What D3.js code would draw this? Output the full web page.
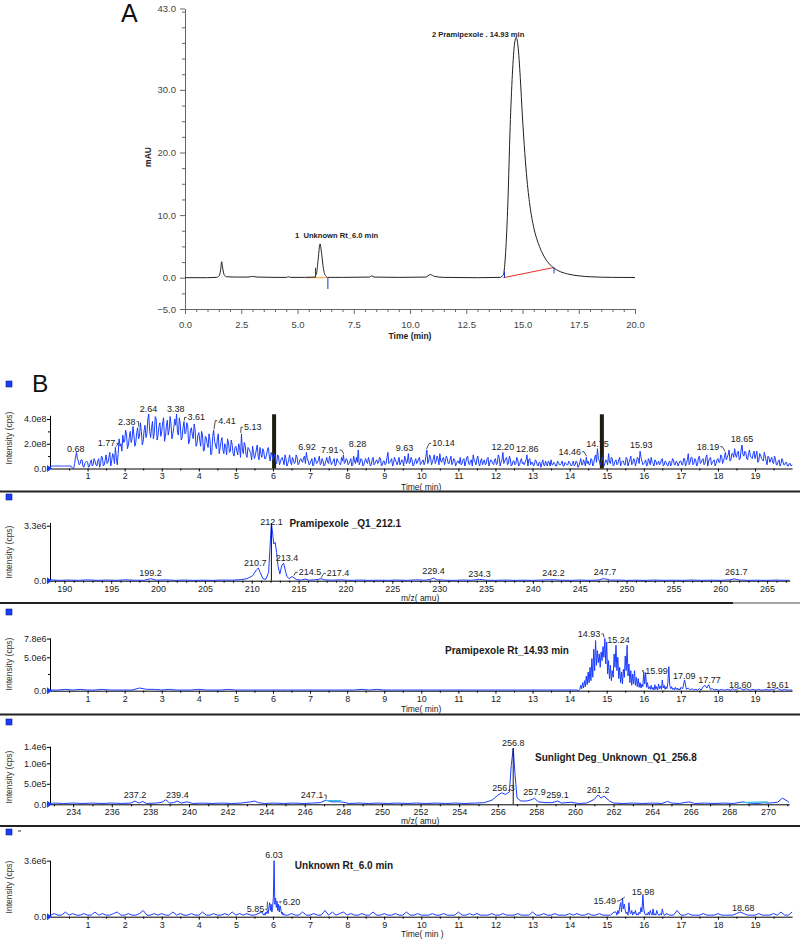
<!DOCTYPE html>
<html><head><meta charset="utf-8">
<script src="https://cdn.jsdelivr.net/npm/d3@7"></script>
<style>body{margin:0;background:#fff} svg{display:block}</style>
</head><body>
<svg id="c" width="800" height="941"></svg>
<script>
// ---------------- DATA ----------------
// Panel A: UV chromatogram [time (min), mAU]
const uvTrace = [[0,0],[1.0,0],[1.4,0.05],[1.52,0.3],[1.58,1.2],[1.63,2.55],[1.68,1.4],[1.75,0.4],[1.85,0.15],[2.2,0.1],[2.8,0.1],[3.0,0.2],[3.2,0.1],[4.0,0.05],[4.5,0.05],[4.6,0.15],[4.7,0.05],[5.3,0.05],[5.75,0.1],[5.85,0.8],[5.92,3.0],[6.0,5.4],[6.08,3.6],[6.15,1.5],[6.25,0.3],[6.35,0.05],[7.0,0.05],[8.2,0.1],[8.3,0.3],[8.4,0.1],[9.5,0.05],[10.7,0.1],[10.9,0.5],[11.1,0.2],[11.5,0.05],[13.0,0.0],[14.0,0.05],[14.15,0.5],[14.25,4],[14.35,12],[14.45,24],[14.55,32.5],[14.65,37.5],[14.72,38.4],[14.8,37],[14.9,32],[15.0,25.5],[15.1,20],[15.2,15.6],[15.35,11],[15.5,8],[15.7,5.5],[15.9,3.8],[16.1,2.6],[16.3,1.8],[16.6,1.1],[17.0,0.6],[17.5,0.3],[18.0,0.15],[19.0,0.05],[20.0,0.03]];
const uvYTicks = [-5,0,10,20,30,43];
const uvXTicks = [0,2.5,5,7.5,10,12.5,15,17.5,20];
const uvPeakLabels = [["1  Unknown Rt_6.0 min",6.0,6.3],["2 Pramipexole . 14.93 min",14.93,38.4]];
const uvBaseline1 = [[5.4,0],[6.3,0]];
const uvBaseline2 = [[14.15,0],[16.35,1.6]];
const uvMarks = [[5.8,1.6,0],[6.35,0,-1.8],[14.2,1,0],[16.4,1.7,0.7]];

// Panel B1: TIC, intensity in 1e7 cps, sampled every 0.05 min from 0 ...
const TIC_START = 0, TIC_STEP = 0.05;
const ticValues = [
1,2,2,2,2,2,2,2,2,2,2,2,0,4,13,6,4,7,1,5,
5,2,7,3,6,2,8,4,9,3,11,5,13,6,10,17,3,24,20,27,
22,28,19,30,24,27,21,33,26,30,22,35,28,44,25,38,29,40,27,37,
30,41,26,39,31,36,28,40,44,27,36,25,38,29,35,22,33,24,31,20,
29,18,27,15,25,17,23,13,31,19,24,12,22,15,20,11,21,14,19,10,
18,11,17,28,12,19,9,16,12,18,8,15,10,17,9,14,8,15,10,13,
7,12,4,10,5,9,3,8,4,11,3,7,5,9,4,8,5,10,13,6,
4,8,3,7,5,10,4,6,3,9,4,7,5,8,3,6,4,9,11,5,
7,4,8,3,6,9,15,5,7,3,8,4,6,3,9,4,7,5,8,3,
6,4,13,5,8,4,7,3,9,5,6,10,4,12,5,7,3,8,5,9,
4,7,5,15,6,9,5,11,6,8,12,5,9,6,8,4,10,5,7,4,
6,9,4,8,5,10,3,7,11,5,8,4,6,3,7,4,9,5,6,3,
8,4,9,5,13,6,9,4,8,3,6,4,7,3,8,5,5,11,7,3,
5,3,6,2,5,4,3,6,2,5,7,3,4,2,5,3,6,2,4,3,
5,2,6,3,5,2,8,3,5,9,6,3,7,4,11,16,6,5,9,4,
6,12,4,8,3,7,4,9,5,6,3,8,5,10,4,7,5,8,14,6,
4,7,3,6,9,4,7,3,6,4,8,3,5,2,6,4,7,3,5,4,
6,3,8,4,12,5,9,4,7,3,10,5,8,4,11,6,9,5,7,4,
8,5,10,6,13,9,15,7,12,16,9,14,8,19,10,13,7,15,9,12,
8,14,6,11,7,13,6,10,5,9,4,8,3,7,4,6,3,5,2,4,
3];
// ... plus the in-between scans, every 0.05 min from 0.025
const TIC_MID_START = 0.025;
const ticMidValues = [
2,2,2,2,2,2,2,2,2,2,2,1,0,9,8,3,7,2,4,6,
1,5,2,8,3,6,1,10,2,7,4,9,2,12,4,9,12,18,14,21,
31,16,25,21,34,18,29,24,37,19,31,25,40,30,33,24,42,23,34,26,
37,22,34,27,42,24,33,35,29,41,23,33,28,37,20,31,27,36,18,27,
23,30,14,26,20,28,11,26,22,16,28,17,25,12,18,24,13,23,12,17,
14,20,9,15,21,11,17,14,7,13,11,19,7,12,16,8,11,17,6,11,
10,5,11,3,8,6,11,2,7,5,9,4,11,3,7,6,9,4,8,3,
6,2,9,4,7,3,8,2,6,5,10,3,6,2,8,5,3,6,4,8,
3,6,2,10,4,5,3,8,2,6,5,9,2,7,3,6,4,9,2,6,
3,9,4,6,2,9,5,6,3,7,2,8,6,4,9,2,6,4,8,3,
6,3,10,4,11,3,8,4,10,3,6,8,3,10,4,7,3,8,2,6,
4,3,7,2,9,4,6,2,7,3,10,2,8,5,3,8,2,7,4,7,
3,11,2,7,4,8,3,10,2,6,3,9,2,6,4,3,7,2,8,5,
2,7,3,5,1,7,2,4,6,2,3,5,2,6,3,4,2,5,3,6,
3,4,2,6,1,5,3,7,2,4,3,8,2,9,5,8,3,9,2,7,
3,5,9,2,6,3,7,2,6,3,9,2,7,3,8,2,9,4,9,3,
5,2,8,3,5,2,6,4,3,7,2,6,3,5,2,8,3,6,2,6,
3,8,2,7,3,9,3,8,2,9,4,7,3,9,2,8,3,6,2,7,
5,11,4,9,7,11,6,12,9,11,13,7,15,11,14,8,12,10,8,14,
11,5,12,8,6,10,3,9,7,5,10,3,6,2,8,3,5,2,4,2];
const ticMarkers = [6.03, 14.87];
const ticLabels = [["0.68",0.68,13.1],["1.77",1.77,17.9],["2.38",2.38,35.4],["2.64",2.64,45.4],["3.38",3.38,45.4],["3.61",3.61,38.9],["4.41",4.41,36.2],["5.13",5.13,30.9],["6.92",6.92,14.7],["7.91",7.91,12.5],["8.28",8.28,17.4],["9.63",9.63,13.9],["10.14",10.14,17.9],["12.20",12.20,14.7],["12.86",12.86,13.1],["14.46",14.46,11.2],["14.75",14.75,17.4],["15.93",15.93,16.6],["18.19",18.19,15.2],["18.65",18.65,21.2]];

// Panel B2: Q1 spectrum 212.1, [m/z, intensity in 1e5 cps]
const q1Spectrum = [[188.5,0.5],[189.5,0.2],[190.5,0.4],[191.5,0.2],[192.5,0.5],[193.5,0.2],[194.5,0.4],[195.5,0.2],[196.5,0.5],[197.5,0.3],[198.5,0.2],[199.2,1.2],[199.8,0.3],[200.8,0.5],[201.8,0.2],[202.8,0.4],[203.8,0.2],[204.8,0.3],[205.8,0.2],[206.8,0.4],[207.8,0.3],[208.8,0.6],[209.5,1.2],[210.1,3],[210.5,6.5],[210.7,7.6],[210.9,5],[211.2,1.2],[211.5,0.8],[211.8,5],[212.0,25],[212.1,34.5],[212.2,30],[212.35,22],[212.5,23],[212.65,17],[212.8,9],[213.0,4],[213.2,9],[213.4,10.5],[213.55,7],[213.75,2.5],[214.0,1.2],[214.3,2.5],[214.5,1.8],[214.8,0.6],[215.3,0.4],[215.7,1.0],[216.1,0.3],[216.8,0.6],[217.1,0.8],[217.4,1.2],[217.8,0.5],[218.5,0.3],[219.5,0.5],[220.5,0.2],[221.5,0.4],[222.5,0.2],[223.5,0.3],[224.5,0.2],[225.5,0.4],[226.5,0.2],[227.5,0.5],[228.5,0.3],[229.1,0.8],[229.4,1.6],[229.7,0.6],[230.5,0.3],[231.5,0.2],[232.5,0.4],[233.5,0.3],[234.3,0.8],[235,0.3],[236,0.2],[237,0.4],[238,0.2],[239,0.3],[240,0.2],[241,0.4],[242.2,0.6],[243,0.3],[244,0.2],[245,0.4],[246,0.2],[247,0.4],[247.5,1.2],[247.9,0.9],[248.3,0.3],[249,0.4],[250,0.2],[251,0.3],[252,0.2],[253,0.4],[254,0.2],[255,0.3],[256,0.2],[257,0.4],[258,0.2],[259,0.3],[260,0.2],[261,0.5],[261.5,1.1],[262,0.4],[263,0.2],[264,0.3],[265,0.2],[266,0.4],[267,0.2],[267.4,0.3]];
const q1Marker = 212.1;
const q1Labels = [["199.2",199.2,2.6],["210.7",210.7,8.6],["212.1",212.1,33.6],["213.4",213.4,11.6],["214.5",214.5,3.2],["217.4",217.4,2.6],["229.4",229.4,4.0],["234.3",234.3,2.0],["242.2",242.2,2.6],["247.7",247.7,3.6],["261.7",261.7,3.2]];

// Panel B3: XIC Rt 14.93, intensity in 1e5 cps (three sampled segments)
const XIC14_BASE_START = 0, XIC14_BASE_STEP = 0.2;
const xic14Base = [1,1,2,1,2,1,1,2,1,1,1,1,4,2,2,1,2,1,1,1,2,1,1,1,2,1,1,1,1,1,1,1,1,1,1,1,1,1,1,1,1,1,2,1,2,1,1,1,1,1,1,1,1,1,1,1,1,1,1,1,1,1,1,1,1,1,1,1,1,1,1,1];
const XIC14_PEAK_START = 14.25, XIC14_PEAK_STEP = 0.025;
const xic14Peak = [
0,2,8,3,12,4,15,6,22,9,
28,12,35,15,48,20,62,30,75,38,
60,42,55,35,58,45,66,50,78,40,
73,25,45,18,38,15,30,20,55,35,
68,30,50,18,35,12,28,10,32,20,
52,30,68,22,40,12,30,8,25,10,
30,8,20,6,18,5,12,4,10,6,
28,10,27,5,12,3,6,2,8,2,
5,1,9,2,6,1,10,3,7,2,
16,4,8,2,6,3,12,36,8,3,
6,2,4,1,5,2,4,1,3,1,
5];
const XIC14_TAIL_START = 17.05, XIC14_TAIL_STEP = 0.05;
const xic14Tail = [3,16,2,4,1,3,1,2,1,3, 1,6,8,4,9,2,3,1,2,1, 1,2,1,1,2,1,1,3,1,2, 3,4,2,1,3,2,1,1,2,1, 1,2,1,1,1,2,1,1,2,1, 3,4,2,1,1,2,1,1,1,1];
const xic14Labels = [["14.93",14.93,80.4],["15.24",15.24,71.4],["15.99",15.99,25],["17.09",17.09,17.5],["17.77",17.77,11.5],["18.60",18.60,4],["19.61",19.61,4]];

// Panel B4: Q1 spectrum 256.8, [m/z, intensity in 1e4 cps]
const q4Spectrum = [[232.8,2],[233.0,3],[233.5,2],[234,3],[234.5,2],[235,3],[235.5,2],[236,3],[236.5,2],[237.0,3],[237.2,8],[237.4,3],[237.6,7],[237.8,2],[238.3,3],[238.6,5],[238.8,11],[239.0,3],[239.2,4],[239.4,8],[239.6,3],[239.9,6],[240.2,2],[240.7,3],[241.2,2],[241.7,3],[242.2,2],[242.7,3],[243.2,6],[243.4,8],[243.6,4],[243.9,2],[244.4,3],[244.9,2],[245.4,3],[245.9,2],[246.4,3],[246.8,4],[247.1,10],[247.4,6],[247.8,6],[248.0,5],[248.3,2],[248.8,3],[249.3,2],[249.8,3],[250.3,2],[250.8,3],[251.3,2],[251.8,3],[252.3,2],[252.8,3],[253.3,2],[253.8,3],[254.3,2],[254.8,3],[255.3,4],[255.7,10],[256.0,22],[256.2,28],[256.4,24],[256.6,30],[256.7,95],[256.8,137],[256.9,70],[257.0,15],[257.2,8],[257.5,8],[257.8,12],[257.9,15],[258.1,6],[258.5,4],[258.8,4],[259.1,8],[259.3,3],[259.8,5],[260.2,2],[260.6,3],[261.0,12],[261.2,23],[261.35,15],[261.5,20],[261.8,8],[262.0,3],[262.5,2],[263,3],[263.5,2],[264,3],[264.5,2],[264.8,7],[265.0,3],[265.4,2],[265.9,6],[266.2,2],[266.7,3],[267.2,2],[267.7,3],[268.2,2],[268.7,6],[269.0,3],[269.5,2],[269.8,4],[270.0,3],[270.3,4],[270.5,5],[270.75,15],[271.0,8],[271.1,4]];
const q4Cyan = [[[247.1,9],[247.9,9]],[[268.7,4],[270.0,6]]];
const q4Marker = 256.8;
const q4Labels = [["237.2",237.2,15.4],["239.4",239.4,15.4],["247.1",247.1,15.4],["256.8",256.8,141.5],["256.3",256.3,31.7],["257.9",257.9,23.4],["259.1",259.1,15.4],["261.2",261.2,27.6]];

// Panel B5: XIC Rt 6.0, intensity in 1e5 cps (sampled segments)
const XIC6_A_START = 0, XIC6_A_STEP = 0.1;
const xic6A = [1,2,1,1,3,1,2,1,1,2, 1,1,3,1,2,1,1,2,3,1, 1,2,1,1,2,4,1,1,2,1, 2,1,1,3,1,2,1,1,2,1, 1,3,1,1,2,1,1,2,1,3, 1,2,1,2,1,1,2,3];
const XIC6_B_START = 5.75, XIC6_B_STEP = 0.02;
const xic6B = [1,2,1,3,2,4,2,6,9,4,8,3,6,12,36,8,12,6,10,4,8,3,7,5,2,3,1,2,1,1,1];
const XIC6_C_START = 6.4, XIC6_C_STEP = 0.1;
const xic6C = [1,2,1,1,3,1,1,2,1,1, 4,1,3,1,2,3,1,2,1,1, 2,1,1,3,1,1,2,1,1,2, 1,1,3,1,1,2,1,1,1,2, 1,1,2,1,1,1,3,1,1,2, 1,2,1,1,1,2,1,1,2,1, 1,1,2,1,1,1,3,1,1,2, 1,1,2,1,1,1,2,1,2,1, 1,2,1,1,2,1,1,1,3];
const XIC6_D_START = 15.25, XIC6_D_STEP = 0.025;
const xic6D = [3,1,4,2,6,9,3,12,5,8, 4,2,3,1,9,3,2,4,1,3, 2,4,1,2,1,3,2,6,3,14, 5,2,1,2,1,3,1,4,2,1, 5,1,2,1,4,2,1,1,2,1, 5,2,1,1,2];
const XIC6_E_START = 16.7, XIC6_E_STEP = 0.1;
const xic6E = [1,1,4,1,1,2,1,1,1,2, 1,1,1,2,1,1,1,1,2,3, 2,1,1,1,2,1,1,1,2,1, 3,1,1,3];
const xic6Labels = [["6.03",6.03,37.7],["5.85",5.85,2.8],["6.20",6.20,7.7],["15.49",15.49,8.2],["15.98",15.98,14.1],["18.68",18.68,3.5]];

const timeTicks = d3.range(1,20);
const q1Ticks = d3.range(190,266,5);
const q4Ticks = d3.range(234,271,2);

// ---------------- STYLE ----------------
const FONT = "Arial, 'Liberation Sans', Helvetica, sans-serif";
const BLUE = "#1a3cff";
const svg = d3.select("#c");
const series = (start, step, vals) => vals.map((v,i) => [start + i*step, v]);

// ---------------- PANEL A ----------------
const xA = d3.scaleLinear([0,20],[185,635]);
const yA = d3.scaleLinear([-5,43],[309,8.5]);
const gA = svg.append("g");
function styleAxis(g, color, fs, fill){
  g.selectAll(".domain,.tick line").attr("stroke", color);
  g.selectAll("text").attr("font-family", FONT).attr("font-size", fs).attr("fill", fill);
  g.attr("font-family", null).attr("font-size", null);
}
const ayA = gA.append("g").attr("transform","translate(185,0)")
  .call(d3.axisLeft(yA).tickValues(uvYTicks).tickFormat(d3.format(".1f")).tickSize(5).tickPadding(4).tickSizeOuter(0));
styleAxis(ayA, "#666", 9.5, "#444");
const ayAm = gA.append("g").attr("transform","translate(185,0)")
  .call(d3.axisLeft(yA).tickValues(d3.range(-2.5,43,2.5).filter(v=>!uvYTicks.includes(v))).tickFormat("").tickSize(3).tickSizeOuter(0));
ayAm.select(".domain").remove(); styleAxis(ayAm,"#666",9,"#444");
const axA = gA.append("g").attr("transform","translate(0,309)")
  .call(d3.axisBottom(xA).tickValues(uvXTicks).tickFormat(d3.format(".1f")).tickSize(5).tickPadding(7.5).tickSizeOuter(0));
styleAxis(axA, "#666", 9.5, "#444");
const axAm = gA.append("g").attr("transform","translate(0,309)")
  .call(d3.axisBottom(xA).tickValues(d3.range(0.5,20,0.5).filter(v=>!uvXTicks.includes(v))).tickFormat("").tickSize(3).tickSizeOuter(0));
axAm.select(".domain").remove(); styleAxis(axAm,"#666",9,"#444");

gA.append("path").attr("d", d3.line().x(d=>xA(d[0])).y(d=>yA(d[1]))(uvBaseline1)).attr("stroke","#f5a030").attr("stroke-width",1).attr("fill","none");
gA.append("path").attr("d", d3.line().x(d=>xA(d[0])).y(d=>yA(d[1]))(uvBaseline2)).attr("stroke","#e8302a").attr("stroke-width",1).attr("fill","none");
gA.append("path").attr("d", d3.line().x(d=>xA(d[0])).y(d=>yA(d[1])).curve(d3.curveMonotoneX)(uvTrace))
  .attr("fill","none").attr("stroke","#222").attr("stroke-width",1);
uvMarks.forEach(m => gA.append("line").attr("x1",xA(m[0])).attr("x2",xA(m[0])).attr("y1",yA(m[1])).attr("y2",yA(m[2])).attr("stroke","#2030d0").attr("stroke-width",1));
const uvLabelDx = [-25,-89];
uvPeakLabels.forEach((l,i) => gA.append("text").attr("x", xA(l[1]) + uvLabelDx[i]).attr("y", yA(l[2]))
  .attr("xml:space","preserve").attr("font-family",FONT).attr("font-size",7.6).attr("font-weight","bold").attr("fill","#222").text(l[0]));
gA.append("text").attr("x",410).attr("y",339).attr("text-anchor","middle").attr("font-family",FONT).attr("font-size",8.5).attr("font-weight","bold").attr("fill","#222").text("Time (min)");
gA.append("text").attr("transform","translate(151,157) rotate(-90)").attr("text-anchor","middle").attr("font-family",FONT).attr("font-size",8.5).attr("font-weight","bold").attr("fill","#222").text("mAU");
svg.append("text").attr("x",121).attr("y",22).attr("font-family",FONT).attr("font-size",25).attr("fill","#111").text("A");

// ---------------- PANEL B ----------------
svg.append("text").attr("x",32).attr("y",392).attr("font-family",FONT).attr("font-size",24.5).attr("fill","#111").text("B");

function drawPanel(c){
  const g = svg.append("g");
  const y0 = c.yS(0);
  const yTop = c.yS.range()[1];
  const ay = g.append("g").attr("transform",`translate(50,0)`)
    .call(d3.axisLeft(c.yS).tickValues(c.yMajor.map(d=>d[0])).tickFormat((d,i)=>c.yMajor[i][1]).tickSize(3).tickPadding(0.5).tickSizeOuter(0));
  styleAxis(ay, "#000", 9, "#222");
  if (c.yMinor){
    const aym = g.append("g").attr("transform",`translate(50,0)`)
      .call(d3.axisLeft(c.yS).tickValues(c.yMinor).tickFormat("").tickSize(2).tickSizeOuter(0));
    aym.select(".domain").remove(); styleAxis(aym,"#000",9,"#222");
  }
  const ax = g.append("g").attr("transform",`translate(0,${y0})`)
    .call(d3.axisBottom(c.xS).tickValues(c.xMajor).tickFormat(d3.format("d")).tickSize(3).tickPadding(1.5).tickSizeOuter(0));
  styleAxis(ax, "#000", 9, "#222");
  const axm = g.append("g").attr("transform",`translate(0,${y0})`)
    .call(d3.axisBottom(c.xS).tickValues(c.xMinor).tickFormat("").tickSize(2).tickSizeOuter(0));
  axm.select(".domain").remove(); styleAxis(axm,"#000",9,"#222");
  g.append("text").attr("transform",`translate(12,${c.yLabelY}) rotate(-90)`).attr("text-anchor","middle")
    .attr("font-family",FONT).attr("font-size",8.5).attr("fill","#333").text("Intensity (cps)");
  g.append("text").attr("x",401).attr("y",c.xLabelY).attr("xml:space","preserve").attr("font-family",FONT).attr("font-size",8.5).attr("fill","#222").text(c.xLabel);
  g.append("rect").attr("x",6).attr("y",c.squareY).attr("width",6).attr("height",6).attr("fill",BLUE).attr("stroke","#102080").attr("stroke-width",0.6);
  g.append("path").attr("d",`M47,${y0-3.5}L52,${y0}L47,${y0+3.5}Z`).attr("fill",BLUE);
  if (c.bars) c.bars.forEach(t => g.append("rect").attr("x",c.xS(t)-2).attr("y",yTop-1).attr("width",4).attr("height",y0-yTop+1).attr("fill","#1c1c10"));
  g.append("path").attr("d", d3.line().x(d=>c.xS(d[0])).y(d=>c.yS(d[1]))(c.data))
    .attr("fill","none").attr("stroke",BLUE).attr("stroke-width",1);
  if (c.cyan) c.cyan.forEach(s => g.append("path").attr("d", d3.line().x(d=>c.xS(d[0])).y(d=>c.yS(d[1]))(s)).attr("stroke","#33c6e6").attr("stroke-width",1.2).attr("fill","none"));
  if (c.line != null){
    const pk = d3.max(c.data.filter(d=>Math.abs(d[0]-c.line)<0.06), d=>d[1]);
    g.append("line").attr("x1",c.xS(c.line)).attr("x2",c.xS(c.line)).attr("y1",c.yS(pk)).attr("y2",y0).attr("stroke","#111").attr("stroke-width",1);
  }
  c.labels.forEach(l => {
    const dx = (c.dx && c.dx[l[0]]) || 0;
    const px = c.xS(l[1]);
    const ty = c.yS(l[2]);
    const t = g.append("text").attr("x", px+dx).attr("y", ty).attr("text-anchor","middle")
      .attr("font-family",FONT).attr("font-size",9).attr("fill","#222").text(l[0]);
    if (Math.abs(dx) > 6){
      const w = t.node().getComputedTextLength();
      const pk = d3.max(c.data.filter(d=>Math.abs(d[0]-l[1])<=c.tol), d=>d[1]) || 0;
      const py = c.yS(pk) - 1;
      const ex = dx < 0 ? px+dx+w/2+1 : px+dx-w/2-1;
      const hx = dx < 0 ? ex+2 : ex-2;
      g.append("path").attr("d",`M${ex},${ty-3}L${hx},${ty-3}L${px},${py}`).attr("fill","none").attr("stroke","#222").attr("stroke-width",0.8);
    }
  });
  if (c.title){
    g.append("text").attr("x",c.xS(c.title[1])).attr("y",c.yS(c.title[2])).attr("font-family",FONT).attr("font-size",10).attr("font-weight","bold").attr("fill","#1a1a1a").text(c.title[0]);
  }
}

const xTime = d3.scaleLinear([0,20],[50.5,792.1]);
const halfMinor = d3.range(0.5,20,0.5).filter(v=>!Number.isInteger(v));
const ticSeries = series(TIC_START, TIC_STEP, ticValues).concat(series(TIC_MID_START, TIC_STEP, ticMidValues)).sort((a,b)=>a[0]-b[0]);

drawPanel({
  data: ticSeries, xS: xTime, yS: d3.scaleLinear([0,43],[468.5,415.3]),
  xMajor: timeTicks, xMinor: halfMinor, yMajor: [[0,"0.0"],[20,"2.0e8"],[40,"4.0e8"]], yMinor:[10,30],
  yLabelY: 438, xLabel: "Time( min)", xLabelY: 489.5, squareY: 381, bars: ticMarkers,
  labels: ticLabels, tol: 0.03,
  dx: {"1.77":-9.5,"2.38":-12,"3.61":12,"4.41":13,"5.13":12,"7.91":-14,"9.63":-3,"10.14":17,"14.46":-17,"18.19":-17}
});

drawPanel({
  data: q1Spectrum, xS: d3.scaleLinear([188.47,267.4],[50,789.6]), yS: d3.scaleLinear([0,35],[580.7,522.4]),
  xMajor: q1Ticks, xMinor: d3.range(189,268,1).filter(v=>v%5!==0), yMajor: [[0,"0.0"],[33,"3.3e6"]],
  yLabelY: 552, xLabel: "m/z( amu)", xLabelY: 601, squareY: 494, line: q1Marker,
  labels: q1Labels, tol: 0.35, dx: {"210.7":-3,"213.4":3.5,"214.5":16,"217.4":17},
  title: ["Pramipexole _Q1_212.1", 214.02, 32.5]
});

drawPanel({
  data: series(XIC14_BASE_START, XIC14_BASE_STEP, xic14Base).concat(series(XIC14_PEAK_START, XIC14_PEAK_STEP, xic14Peak), series(XIC14_TAIL_START, XIC14_TAIL_STEP, xic14Tail)),
  xS: xTime, yS: d3.scaleLinear([0,79],[690.7,637.9]),
  xMajor: timeTicks, xMinor: halfMinor, yMajor: [[0,"0.0"],[50,"5.0e6"],[78,"7.8e6"]], yMinor:[25],
  yLabelY: 664, xLabel: "Time( min)", xLabelY: 711.5, squareY: 609,
  labels: xic14Labels, tol: 0.04, dx: {"14.93":-15,"15.24":3,"15.99":13},
  title: ["Pramipexole Rt_14.93 min", 10.64, 54.9]
});

drawPanel({
  data: q4Spectrum, xS: d3.scaleLinear([232.8,271.1],[50,789.2]), yS: d3.scaleLinear([0,142],[804.3,746.1]),
  xMajor: q4Ticks, xMinor: d3.range(233,272,2), yMajor: [[0,"0.0"],[50,"5.0e5"],[100,"1.0e6"],[140,"1.4e6"]],
  yLabelY: 777, xLabel: "m/z( amu)", xLabelY: 824, squareY: 719, line: q4Marker, cyan: q4Cyan,
  labels: q4Labels, tol: 0.15, dx: {"247.1":-14},
  title: ["Sunlight Deg_Unknown_Q1_256.8", 257.93, 106.8]
});

drawPanel({
  data: series(XIC6_A_START, XIC6_A_STEP, xic6A).concat(series(XIC6_B_START, XIC6_B_STEP, xic6B), series(XIC6_C_START, XIC6_C_STEP, xic6C), series(XIC6_D_START, XIC6_D_STEP, xic6D), series(XIC6_E_START, XIC6_E_STEP, xic6E)),
  xS: xTime, yS: d3.scaleLinear([0,36.3],[916.7,860.2]),
  xMajor: timeTicks, xMinor: halfMinor, yMajor: [[0,"0.0"],[36,"3.6e6"]],
  yLabelY: 887, xLabel: "Time( min )", xLabelY: 937, squareY: 829,
  labels: xic6Labels, tol: 0.07, dx: {"5.85":-12,"6.20":11,"15.49":-20},
  title: ["Unknown Rt_6.0 min", 6.59, 30.7]
});

// separators
[491.5, 714.5, 826].forEach(y => svg.append("line").attr("x1",0).attr("x2",800).attr("y1",y).attr("y2",y).attr("stroke","#222").attr("stroke-width",2));
svg.append("line").attr("x1",0).attr("x2",733).attr("y1",603).attr("y2",603).attr("stroke","#222").attr("stroke-width",2);
svg.append("line").attr("x1",733).attr("x2",800).attr("y1",603).attr("y2",603).attr("stroke","#888").attr("stroke-width",1.5);
svg.append("line").attr("x1",18).attr("x2",21).attr("y1",831).attr("y2",831).attr("stroke","#333").attr("stroke-width",1);
</script></body></html>
